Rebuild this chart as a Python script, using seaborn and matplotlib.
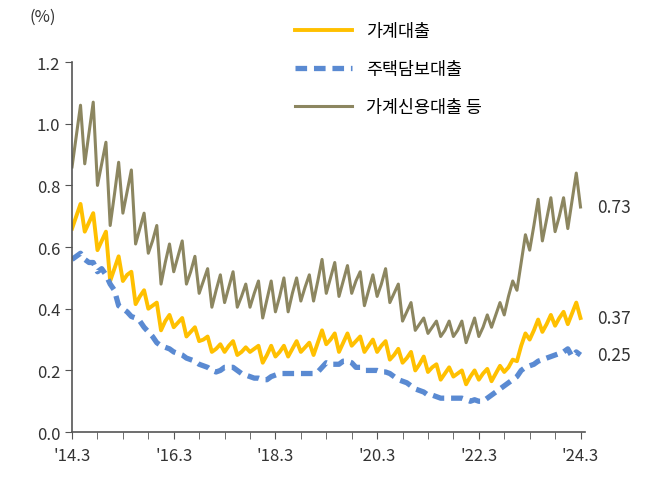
import matplotlib
matplotlib.use("Agg")
import matplotlib.pyplot as plt
import seaborn as sns
import pandas as pd
import numpy as np
from matplotlib import font_manager

avail = {f.name for f in font_manager.fontManager.ttflist}
fams = [f for f in ["Noto Sans CJK KR", "Noto Sans CJK JP", "Noto Sans CJK SC", "Noto Sans CJK TC"] if f in avail]
plt.rcParams["font.family"] = fams + ["DejaVu Sans"]

# monthly, 2014.3 .. 2024.3 (121 months)
household = [
    0.66,0.70,0.74, 0.65,0.68,0.71, 0.59,0.62,0.65, 0.49,0.53,0.57,
    0.49,0.51,0.52, 0.415,0.44,0.46, 0.40,0.41,0.42, 0.33,0.36,0.38,
    0.34,0.355,0.37, 0.31,0.325,0.34, 0.295,0.30,0.31, 0.26,0.27,0.285,
    0.26,0.28,0.295, 0.25,0.26,0.275, 0.26,0.27,0.28, 0.225,0.25,0.28,
    0.245,0.26,0.28, 0.245,0.27,0.295, 0.26,0.275,0.29, 0.25,0.29,0.33,
    0.285,0.30,0.32, 0.26,0.29,0.32, 0.28,0.295,0.31, 0.26,0.28,0.30,
    0.26,0.28,0.295, 0.235,0.25,0.27, 0.225,0.24,0.26, 0.20,0.22,0.245,
    0.195,0.21,0.22, 0.17,0.19,0.21, 0.18,0.19,0.20, 0.155,0.18,0.20,
    0.17,0.19,0.205, 0.165,0.19,0.215, 0.195,0.21,0.235, 0.23,0.28,0.32,
    0.30,0.33,0.365, 0.325,0.35,0.38, 0.345,0.37,0.39, 0.35,0.385,0.42,
    0.37]
mortgage = [
    0.56,0.57,0.58,0.56,0.55,0.55,0.52,0.53,0.51,0.48,0.46,0.41,
    0.40,0.39,0.375,0.37,0.36,0.34,0.325,0.31,0.29,0.28,0.275,0.27,
    0.26,0.255,0.25,0.24,0.235,0.23,0.22,0.215,0.21,0.20,0.195,0.20,
    0.21,0.21,0.21,0.20,0.19,0.185,0.18,0.175,0.175,0.17,0.17,0.18,
    0.185,0.19,0.19,0.19,0.19,0.19,0.19,0.19,0.19,0.19,0.195,0.21,
    0.225,0.22,0.22,0.22,0.23,0.23,0.225,0.21,0.21,0.20,0.20,0.20,
    0.20,0.195,0.195,0.19,0.18,0.17,0.165,0.16,0.15,0.14,0.135,0.13,
    0.12,0.12,0.115,0.11,0.11,0.11,0.11,0.11,0.11,0.105,0.10,0.105,
    0.10,0.10,0.11,0.12,0.13,0.14,0.15,0.16,0.17,0.18,0.20,0.21,
    0.215,0.22,0.23,0.235,0.24,0.245,0.25,0.255,0.26,0.27,0.245,0.26,
    0.25]
credit = [
    0.86,0.96,1.06, 0.87,0.97,1.07, 0.80,0.87,0.94, 0.67,0.77,0.875,
    0.71,0.78,0.85, 0.61,0.66,0.71, 0.58,0.62,0.67, 0.48,0.55,0.61,
    0.52,0.57,0.62, 0.48,0.52,0.57, 0.45,0.49,0.53, 0.405,0.46,0.51,
    0.42,0.47,0.52, 0.405,0.44,0.48, 0.405,0.45,0.49, 0.37,0.43,0.49,
    0.39,0.44,0.50, 0.39,0.45,0.50, 0.425,0.47,0.51, 0.425,0.49,0.56,
    0.45,0.50,0.55, 0.44,0.49,0.54, 0.45,0.49,0.52, 0.41,0.46,0.51,
    0.44,0.48,0.53, 0.42,0.45,0.48, 0.36,0.39,0.42, 0.33,0.35,0.37,
    0.32,0.34,0.36, 0.31,0.33,0.36, 0.31,0.33,0.36, 0.29,0.33,0.37,
    0.31,0.34,0.38, 0.34,0.38,0.42, 0.38,0.44,0.49, 0.46,0.55,0.64,
    0.59,0.67,0.755, 0.62,0.69,0.76, 0.65,0.70,0.76, 0.66,0.75,0.84,
    0.73]
series_names = ["가계대출", "주택담보대출", "가계신용대출 등"]
tick_labels = ["'14.3", "'16.3", "'18.3", "'20.3", "'22.3", "'24.3"]

n = len(household)
df = pd.DataFrame({
    "t": list(range(n)) * 3,
    "v": household + mortgage + credit,
    "s": [series_names[0]] * n + [series_names[1]] * n + [series_names[2]] * n,
})

colors = {series_names[0]: "#FFC000", series_names[1]: "#5A8AD2", series_names[2]: "#8C8660"}

fig = plt.figure(figsize=(6.49, 4.85), dpi=100)
ax = fig.add_axes([0.111, 0.107, 0.79, 0.763])
sns.lineplot(data=df, x="t", y="v", hue="s", palette=colors, ax=ax, legend=False, linewidth=2.2)
lines = ax.get_lines()
lines[0].set_linewidth(2.8)
lines[1].set_linewidth(3.8)
lines[1].set_dashes([2.2, 1.3])
lines[2].set_linewidth(2.2)

ax.set_xlim(0, 121)
ax.set_ylim(0, 1.2)
ax.set_yticks(np.arange(0, 1.21, 0.2))
ax.set_yticklabels([f"{v:.1f}" for v in np.arange(0, 1.21, 0.2)], fontsize=12, color="#333333")
ax.set_xticks(range(0, 121, 24))
ax.set_xticklabels(tick_labels, fontsize=12, color="#333333")
ax.set_xticks(range(0, 121, 6), minor=True)
ax.tick_params(axis="x", which="both", direction="out", length=5, color="#555555", pad=6)
ax.tick_params(axis="y", direction="out", length=5, color="#555555")
ax.set_xlabel("")
ax.set_ylabel("")
for s in ["top", "right"]:
    ax.spines[s].set_visible(False)
for s in ["left", "bottom"]:
    ax.spines[s].set_color("#555555")
    ax.spines[s].set_linewidth(1.2)

fig.text(0.045, 0.955, "(%)", fontsize=12, color="#333333")

from matplotlib.lines import Line2D
handles = [Line2D([], [], color=colors[series_names[0]], lw=2.8),
           Line2D([], [], color=colors[series_names[1]], lw=3.8, dashes=[2.2, 1.3]),
           Line2D([], [], color=colors[series_names[2]], lw=2.2)]
fig.legend(handles, series_names, loc="upper left", bbox_to_anchor=(0.43, 0.985),
           frameon=False, fontsize=12.5, handlelength=3.3, labelspacing=1.15)

ax.text(124, credit[-1], f"{credit[-1]:.2f}", fontsize=12.5, va="center", color="#333333", clip_on=False)
ax.text(124, household[-1], f"{household[-1]:.2f}", fontsize=12.5, va="center", color="#333333", clip_on=False)
ax.text(124, mortgage[-1], f"{mortgage[-1]:.2f}", fontsize=12.5, va="center", color="#333333", clip_on=False)

fig.savefig("out.png", dpi=100)
